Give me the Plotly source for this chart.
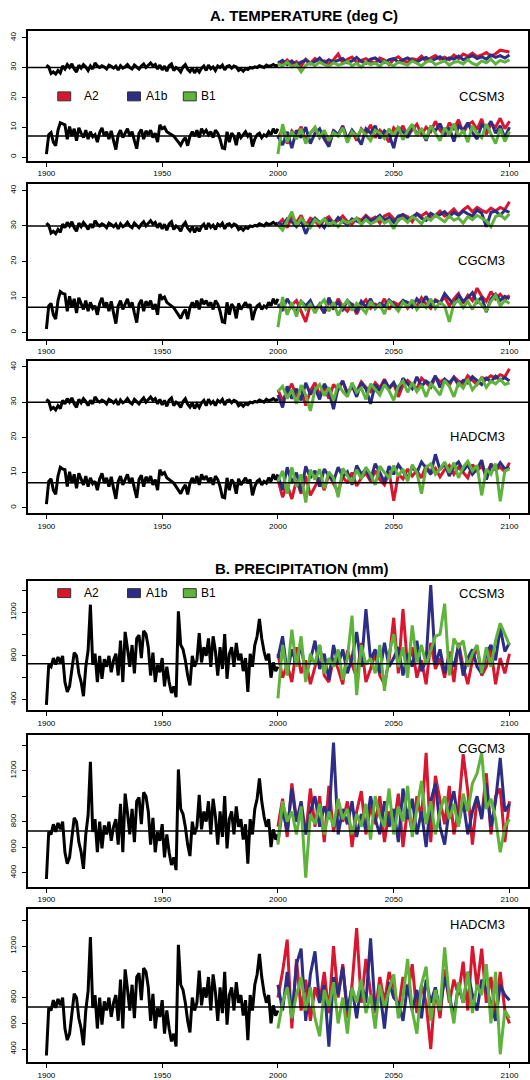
import plotly.graph_objects as go

W, H = 530, 1080

# ---------------- DATA ----------------
hist_years = list(range(1900, 2001))
future_years = list(range(2000, 2101, 2))

hist_tmax = [
    30.8, 30.2, 28.0, 28.5, 27.8, 29.0, 28.2, 30.5, 29.5, 31.0,
    30.0, 31.2, 29.5, 28.5, 30.8, 29.8, 31.0, 30.2, 29.0, 30.5,
    29.5, 31.5, 30.5, 30.0, 30.6, 30.2, 29.5, 30.8, 30.4, 29.8,
    30.5, 29.2, 30.6, 29.8, 30.2, 31.0, 30.0, 29.5, 30.8, 30.2,
    29.5, 30.5, 31.2, 30.0, 30.8, 31.5, 30.5, 31.0, 29.5, 30.8,
    29.2, 30.5, 28.8, 30.6, 31.2, 29.0, 30.0, 29.5, 28.5, 30.2,
    31.0, 29.4, 28.6, 29.8, 28.2, 29.5, 28.5, 29.8, 30.5, 29.0,
    30.8, 29.6, 30.2, 29.0, 30.5, 30.0, 30.8, 29.2, 30.4, 30.6,
    29.8, 30.5, 30.2, 29.0, 29.5, 28.8, 29.6, 29.3, 30.0, 29.8,
    30.2, 30.0, 30.6, 30.2, 30.0, 30.8, 30.4, 30.6, 31.0, 30.5,
    30.8]
hist_tmin = [
    1.0, 7.5, 8.2, 5.0, 3.8, 9.0, 11.5, 11.0, 10.8, 6.0,
    10.2, 7.0, 9.5, 5.5, 9.8, 8.0, 6.5, 9.0, 6.0, 8.5,
    6.8, 7.5, 5.0, 8.2, 9.8, 7.0, 8.5, 6.0, 8.8, 5.5,
    2.5, 7.5, 9.0, 6.5, 8.0, 9.5, 7.0, 8.5, 5.5, 2.8,
    8.0, 9.2, 6.0, 8.8, 7.5, 9.0, 6.5, 8.0, 5.0, 10.8,
    9.5, 10.0, 8.5, 8.0, 7.5, 7.0, 6.0, 5.0, 4.0, 5.5,
    6.5, 3.8, 7.0, 8.5, 7.0, 9.0, 6.5, 9.5, 8.0, 9.0,
    7.5, 8.5, 6.5, 9.0, 8.0, 6.0, 3.0, 2.8, 8.5, 5.0,
    8.0, 7.0, 4.0, 8.2, 6.5, 7.5, 8.5, 7.0, 8.0, 3.5,
    6.0, 7.5, 8.0, 6.5, 7.5, 7.0, 8.5, 7.5, 9.5, 8.0,
    9.5]
hist_precip = [
    350, 720, 700, 780, 720, 790, 740, 800, 560, 470,
    520, 700, 830, 800, 640, 560, 430, 700, 850, 1270,
    720, 820, 560, 800, 590, 770, 700, 800, 650, 760,
    820, 620, 940, 560, 1020, 870, 700, 900, 640, 960,
    990, 780, 1030, 1000, 880, 620, 830, 560, 720, 650,
    780, 520, 700, 560, 460, 520, 420, 1210, 900, 860,
    760, 620, 530, 800, 700, 760, 1010, 740, 880, 800,
    960, 700, 980, 840, 620, 880, 680, 1000, 590, 820,
    880, 700, 920, 760, 820, 660, 780, 470, 820, 700,
    900, 980, 1140, 960, 840, 760, 820, 600, 740, 660,
    700]

tmax_ref = 30.0
tmin_ref = 7.1
precip_ref = 727

# --- CCSM3 ---
ccsm3_tmax_a2 = [31.8, 31.2, 32.5, 31.0, 32.0, 30.5, 32.8, 31.5, 33.0, 31.8, 32.2, 31.0, 32.6, 34.5, 31.5, 32.8, 33.5, 31.8, 32.4, 33.0, 32.0, 31.5, 33.2, 32.5, 31.0, 32.8, 33.6, 32.2, 31.8, 33.0, 32.5, 33.8, 32.0, 33.2, 34.0, 32.8, 33.5, 32.6, 34.2, 33.0, 34.5, 33.8, 34.8, 33.6, 34.2, 35.0, 33.8, 34.6, 35.8, 35.5, 35.2]
ccsm3_tmax_a1b = [31.5, 32.4, 31.0, 32.2, 30.8, 31.8, 32.5, 31.2, 32.0, 33.2, 31.5, 32.6, 31.8, 32.4, 33.0, 31.6, 32.2, 33.4, 32.0, 31.4, 32.8, 33.2, 32.0, 31.6, 32.6, 33.0, 31.8, 32.6, 33.2, 32.4, 31.8, 32.8, 33.4, 32.2, 33.0, 33.6, 32.4, 33.2, 32.8, 33.8, 32.6, 33.4, 34.0, 33.0, 33.6, 32.8, 34.2, 33.4, 34.0, 33.2, 34.2]
ccsm3_tmax_b1 = [31.2, 30.5, 31.8, 30.2, 31.0, 28.6, 30.8, 31.5, 30.6, 31.8, 31.0, 30.4, 31.6, 30.8, 31.2, 32.0, 30.6, 31.4, 30.2, 31.8, 31.0, 31.5, 30.4, 32.0, 31.2, 30.6, 31.8, 31.2, 30.8, 32.2, 31.4, 30.6, 31.8, 32.4, 31.0, 31.6, 32.2, 30.8, 31.8, 32.0, 31.2, 32.6, 31.4, 30.8, 32.2, 31.6, 32.8, 31.2, 32.4, 31.8, 32.6]
ccsm3_tmin_a2 = [6.0, 9.5, 4.5, 8.8, 7.0, 10.2, 5.5, 8.0, 9.8, 6.5, 8.5, 4.0, 9.0, 7.2, 10.5, 6.0, 8.8, 5.5, 9.5, 7.8, 10.8, 6.5, 9.0, 7.5, 5.0, 9.8, 8.2, 10.5, 6.8, 9.2, 11.0, 7.5, 10.0, 8.5, 12.0, 9.0, 7.0, 11.5, 9.5, 12.5, 8.0, 10.8, 11.8, 9.2, 12.8, 7.5, 11.2, 10.0, 13.0, 9.5, 12.0]
ccsm3_tmin_a1b = [7.0, 4.0, 8.5, 3.0, 9.0, 6.5, 10.0, 4.5, 8.0, 9.5, 6.0, 3.5, 8.8, 7.5, 10.2, 5.8, 9.0, 7.0, 4.2, 9.5, 8.0, 10.5, 6.2, 8.8, 7.5, 3.0, 9.8, 8.5, 6.5, 10.8, 7.8, 9.2, 5.5, 10.0, 8.8, 11.2, 7.5, 9.8, 5.2, 10.5, 9.0, 11.5, 8.2, 6.0, 10.8, 9.5, 12.0, 8.0, 10.5, 6.5, 10.0]
ccsm3_tmin_b1 = [1.0, 11.0, 5.0, 8.5, 6.0, 9.5, 4.5, 8.0, 10.0, 6.5, 9.0, 5.5, 8.2, 7.0, 9.8, 4.8, 8.5, 6.8, 9.2, 7.5, 5.5, 9.0, 8.0, 6.2, 9.5, 7.0, 10.2, 5.8, 8.8, 11.0, 7.2, 9.5, 6.0, 10.5, 8.2, 5.5, 9.8, 7.5, 11.2, 6.8, 9.0, 5.0, 10.5, 8.0, 6.5, 11.0, 7.8, 4.5, 9.5, 5.2, 8.5]
ccsm3_precip_a2 = [820, 600, 720, 560, 880, 640, 760, 540, 700, 900, 620, 560, 780, 680, 540, 850, 720, 600, 920, 560, 680, 820, 620, 540, 760, 1150, 640, 1230, 700, 880, 600, 760, 540, 920, 680, 780, 600, 840, 560, 920, 700, 540, 760, 880, 620, 700, 860, 540, 780, 640, 820]
ccsm3_precip_a1b = [780, 980, 640, 860, 720, 900, 620, 760, 940, 680, 820, 580, 900, 720, 860, 640, 780, 1020, 700, 1230, 760, 860, 640, 920, 700, 780, 880, 620, 820, 700, 940, 660, 760, 1450, 720, 860, 640, 800, 700, 900, 620, 780, 860, 700, 640, 820, 900, 760, 1060, 840, 920]
ccsm3_precip_b1 = [410, 900, 620, 1040, 700, 980, 560, 820, 720, 900, 640, 780, 700, 860, 580, 780, 1170, 440, 900, 720, 780, 640, 900, 480, 820, 1000, 700, 880, 600, 1080, 740, 900, 720, 860, 980, 1000, 1280, 620, 960, 880, 940, 700, 820, 900, 640, 880, 700, 940, 1100, 1000, 900]

# --- CGCM3 ---
cgcm3_tmax_a2 = [30.5, 31.8, 29.5, 32.5, 31.0, 33.0, 30.2, 32.2, 31.5, 29.8, 31.8, 32.6, 30.8, 31.5, 32.8, 31.2, 30.5, 32.2, 31.6, 33.0, 31.8, 32.5, 30.8, 32.8, 33.4, 32.0, 31.5, 33.2, 32.6, 31.2, 33.5, 32.8, 33.8, 32.4, 33.0, 34.2, 32.8, 33.6, 34.8, 33.2, 34.5, 35.5, 34.0, 35.2, 34.4, 33.8, 35.0, 34.2, 35.2, 34.6, 36.8]
cgcm3_tmax_a1b = [31.0, 30.2, 32.0, 31.2, 29.8, 31.5, 27.8, 30.8, 32.2, 31.0, 29.5, 31.8, 30.6, 32.4, 31.2, 30.4, 32.0, 31.5, 30.8, 32.6, 31.4, 32.0, 33.0, 31.6, 32.4, 31.0, 32.8, 33.2, 31.8, 32.6, 33.4, 32.2, 31.6, 33.6, 32.8, 33.2, 34.0, 32.6, 33.8, 33.0, 34.2, 33.4, 32.8, 34.5, 33.6, 29.8, 33.8, 34.2, 33.0, 34.4, 33.8]
cgcm3_tmax_b1 = [30.2, 28.8, 31.5, 34.0, 30.0, 32.2, 30.5, 29.5, 31.8, 30.8, 32.0, 30.2, 31.2, 29.8, 31.6, 30.8, 31.4, 32.2, 30.4, 31.8, 30.6, 31.2, 32.4, 30.8, 31.6, 29.2, 31.8, 32.2, 31.0, 32.6, 31.8, 30.6, 32.4, 31.6, 33.0, 32.0, 31.2, 32.8, 31.6, 32.2, 30.8, 32.6, 31.8, 33.0, 32.2, 31.4, 29.8, 32.6, 33.2, 32.0, 33.4]
cgcm3_tmin_a2 = [7.0, 8.5, 5.5, 7.8, 9.0, 6.2, 3.0, 8.0, 6.8, 7.5, 5.5, 8.8, 6.5, 9.5, 7.2, 6.0, 8.2, 5.2, 7.8, 9.2, 6.8, 8.0, 7.2, 9.5, 6.5, 8.5, 7.8, 9.0, 6.8, 8.2, 7.5, 9.8, 8.0, 6.8, 9.2, 8.5, 10.0, 7.5, 9.5, 11.0, 8.2, 10.5, 9.0, 12.5, 10.2, 8.8, 11.5, 9.5, 10.8, 9.2, 10.5]
cgcm3_tmin_a1b = [8.0, 6.5, 9.5, 7.2, 5.8, 8.8, 7.5, 9.0, 6.2, 8.0, 5.5, 9.8, 7.0, 8.5, 6.5, 9.0, 7.8, 6.0, 8.8, 7.2, 9.5, 6.8, 8.2, 7.5, 9.2, 8.0, 6.5, 9.0, 8.5, 7.2, 9.5, 8.0, 10.2, 7.5, 9.0, 8.2, 11.0, 9.5, 7.8, 10.5, 8.8, 9.8, 11.2, 8.5, 10.0, 5.8, 9.5, 10.8, 9.0, 10.2, 9.5]
cgcm3_tmin_b1 = [1.5, 10.0, 5.0, 8.5, 4.5, 9.0, 6.5, 8.0, 5.5, 7.8, 9.2, 6.0, 8.5, 4.8, 7.5, 9.0, 6.2, 8.2, 7.0, 5.5, 8.8, 6.8, 7.8, 5.2, 9.0, 7.5, 6.0, 8.5, 7.2, 9.2, 6.5, 8.0, 7.0, 9.5, 6.8, 8.5, 7.5, 3.0, 8.2, 9.0, 7.0, 8.8, 6.5, 9.2, 7.8, 6.2, 8.8, 10.5, 7.5, 9.0, 8.2]
cgcm3_precip_a2 = [760, 980, 680, 1100, 820, 900, 700, 1060, 760, 1000, 640, 1080, 720, 900, 800, 960, 600, 880, 1040, 700, 920, 780, 1000, 640, 880, 760, 1020, 600, 900, 720, 1000, 820, 1340, 640, 1160, 960, 780, 1080, 700, 900, 1330, 1040, 620, 980, 840, 1180, 700, 1000, 1060, 640, 960]
cgcm3_precip_a1b = [640, 900, 720, 1060, 800, 960, 700, 880, 1000, 760, 920, 820, 1420, 700, 900, 780, 960, 680, 860, 740, 1000, 820, 700, 960, 760, 900, 640, 1060, 820, 980, 700, 880, 600, 960, 1100, 760, 620, 900, 1040, 780, 960, 700, 880, 1000, 820, 1100, 760, 960, 1300, 880, 940]
cgcm3_precip_b1 = [620, 960, 800, 880, 700, 920, 360, 860, 780, 940, 700, 880, 760, 980, 820, 900, 700, 860, 760, 940, 660, 1000, 840, 760, 1060, 700, 920, 800, 1080, 680, 900, 1120, 780, 960, 700, 880, 1000, 820, 940, 760, 1020, 880, 1100, 1180, 1340, 900, 980, 820, 560, 760, 820]

# --- HADCM3 ---
hadcm3_tmax_a2 = [33.5, 30.5, 32.8, 35.2, 31.5, 34.0, 29.0, 33.2, 35.5, 32.0, 34.2, 31.0, 35.0, 33.5, 36.0, 32.2, 34.5, 33.0, 35.8, 34.2, 33.0, 35.5, 34.0, 36.5, 33.8, 35.2, 31.5, 34.8, 36.2, 35.0, 33.8, 36.8, 35.5, 34.2, 37.0, 35.8, 36.5, 34.8, 37.2, 36.0, 35.2, 37.5, 36.2, 35.0, 37.0, 36.5, 37.5, 36.8, 37.8, 37.2, 39.5]
hadcm3_tmax_a1b = [32.0, 28.5, 34.5, 31.0, 33.8, 30.5, 35.5, 32.2, 34.0, 30.8, 35.2, 33.0, 28.0, 34.2, 36.0, 32.5, 34.8, 31.5, 35.5, 33.8, 29.5, 35.0, 33.2, 36.2, 34.0, 35.6, 33.0, 36.8, 35.2, 33.8, 37.2, 34.5, 36.0, 35.0, 37.5, 34.2, 36.5, 35.5, 37.0, 34.8, 36.2, 35.4, 37.2, 36.0, 35.0, 36.8, 35.8, 37.4, 36.2, 37.0, 36.0]
hadcm3_tmax_b1 = [33.0, 34.5, 31.0, 33.5, 29.5, 34.8, 32.0, 27.5, 33.5, 35.0, 31.8, 34.2, 30.5, 35.2, 33.0, 31.5, 35.5, 32.8, 34.0, 30.8, 35.2, 33.5, 32.0, 35.0, 33.2, 30.5, 34.5, 36.0, 32.8, 35.5, 33.0, 34.8, 31.5, 35.2, 33.8, 32.0, 36.2, 34.5, 31.5, 35.5, 34.0, 36.5, 33.5, 35.2, 36.8, 34.2, 36.0, 35.2, 36.5, 35.0, 35.5]
hadcm3_tmin_a2 = [8.0, 3.0, 6.5, 2.5, 7.8, 4.0, 9.0, 3.5, 6.0, 8.5, 5.0, 9.5, 6.8, 4.5, 8.8, 7.0, 10.0, 6.2, 8.5, 9.8, 7.5, 10.5, 8.0, 6.5, 10.2, 2.0, 9.5, 8.2, 11.0, 9.0, 10.5, 8.5, 12.0, 9.8, 11.2, 8.8, 10.8, 12.0, 9.5, 11.5, 10.0, 8.5, 12.2, 10.5, 11.8, 9.2, 12.5, 10.8, 11.5, 10.2, 12.8]
hadcm3_tmin_a1b = [9.0, 5.0, 11.5, 7.0, 10.0, 4.5, 11.8, 8.5, 10.5, 6.0, 11.0, 9.0, 7.5, 11.5, 8.8, 10.2, 6.5, 12.0, 9.5, 11.0, 8.0, 12.5, 10.0, 7.2, 11.8, 9.5, 12.2, 10.5, 8.5, 11.5, 10.0, 13.0, 11.2, 9.5, 15.2, 10.8, 12.5, 9.0, 11.8, 13.0, 10.5, 12.2, 9.5, 11.0, 13.5, 8.0, 12.0, 10.8, 12.8, 11.0, 11.5]
hadcm3_tmin_b1 = [7.5, 10.5, 4.0, 11.5, 6.0, 9.5, 1.5, 10.8, 8.0, 11.0, 5.5, 10.2, 8.5, 3.0, 11.2, 9.0, 7.0, 10.8, 8.2, 11.5, 9.5, 6.5, 11.8, 10.0, 8.5, 12.0, 9.0, 11.0, 7.5, 12.2, 10.0, 4.0, 11.5, 12.5, 9.5, 11.0, 13.0, 10.0, 12.8, 8.5, 11.5, 13.2, 10.5, 12.0, 3.5, 11.0, 9.5, 12.5, 1.8, 10.5, 11.0]
hadcm3_precip_a2 = [800, 1000, 1250, 560, 1100, 700, 940, 620, 880, 760, 1000, 680, 1200, 800, 1060, 640, 900, 1340, 760, 1100, 840, 680, 960, 760, 1000, 880, 700, 960, 820, 1060, 680, 900, 760, 400, 880, 640, 1020, 760, 940, 820, 1080, 700, 1200, 880, 1180, 760, 960, 640, 1000, 700, 600]
hadcm3_precip_a1b = [900, 700, 1000, 640, 1060, 1180, 620, 980, 1160, 760, 900, 420, 960, 820, 1040, 700, 880, 640, 920, 760, 1260, 700, 860, 560, 920, 800, 760, 620, 900, 700, 860, 640, 940, 760, 880, 700, 960, 820, 660, 900, 760, 1000, 820, 700, 940, 860, 760, 620, 900, 820, 780]
hadcm3_precip_b1 = [560, 760, 880, 640, 820, 960, 700, 880, 640, 500, 860, 720, 920, 600, 800, 520, 880, 760, 940, 680, 820, 560, 900, 720, 860, 980, 640, 800, 1100, 700, 520, 900, 1040, 620, 860, 700, 1190, 800, 600, 920, 760, 1000, 680, 900, 820, 1060, 600, 1000, 360, 700, 640]

scenarios = ["A2", "A1b", "B1"]
scenario_colors = {"A2": "#d9162d", "A1b": "#2c2d85", "B1": "#5eb33b"}

future = {
    "CCSM3": {
        "tmax": [ccsm3_tmax_a2, ccsm3_tmax_a1b, ccsm3_tmax_b1],
        "tmin": [ccsm3_tmin_a2, ccsm3_tmin_a1b, ccsm3_tmin_b1],
        "precip": [ccsm3_precip_a2, ccsm3_precip_a1b, ccsm3_precip_b1],
    },
    "CGCM3": {
        "tmax": [cgcm3_tmax_a2, cgcm3_tmax_a1b, cgcm3_tmax_b1],
        "tmin": [cgcm3_tmin_a2, cgcm3_tmin_a1b, cgcm3_tmin_b1],
        "precip": [cgcm3_precip_a2, cgcm3_precip_a1b, cgcm3_precip_b1],
    },
    "HADCM3": {
        "tmax": [hadcm3_tmax_a2, hadcm3_tmax_a1b, hadcm3_tmax_b1],
        "tmin": [hadcm3_tmin_a2, hadcm3_tmin_a1b, hadcm3_tmin_b1],
        "precip": [hadcm3_precip_a2, hadcm3_precip_a1b, hadcm3_precip_b1],
    },
}
models = ["CCSM3", "CGCM3", "HADCM3"]

temp_ticks = [0, 10, 20, 30, 40]
precip_ticks = [400, 600, 800, 1000, 1200, 1400]
x_ticks = [1900, 1950, 2000, 2050, 2100]

# ---------------- LAYOUT GEOMETRY (pixels) ----------------
panels = [
    dict(kind="temp", model="CCSM3", top=31, bottom=162, yr=[-1.3, 42.3], lab_y=97, legend=True),
    dict(kind="temp", model="CGCM3", top=185, bottom=341, yr=[-1.76, 41.87], lab_y=262, legend=False),
    dict(kind="temp", model="HADCM3", top=363.3, bottom=516.7, yr=[-1.6, 41.7], lab_y=439, legend=False),
    dict(kind="precip", model="CCSM3", top=584.3, bottom=715, yr=[300, 1492], lab_y=597, legend=True,
         ptext=["400", "", "800", "", "1200", ""]),
    dict(kind="precip", model="CGCM3", top=739.3, bottom=892.7, yr=[288, 1484], lab_y=753, legend=False,
         ptext=["400", "600", "800", "", "1200", ""]),
    dict(kind="precip", model="HADCM3", top=915, bottom=1069.3, yr=[297, 1488], lab_y=931, legend=False,
         ptext=["400", "600", "800", "", "1200", ""]),
]
X_LEFT = 28
FONT = "Liberation Sans, Arial, sans-serif"


def py(p):
    return 1 - p / H


def px(p):
    return p / W


fig = go.Figure()
layout = dict(
    width=W, height=H,
    margin=dict(l=0, r=0, t=0, b=0),
    paper_bgcolor="white", plot_bgcolor="white",
    showlegend=False,
    font=dict(family=FONT, color="black"),
)
shapes = []
annotations = []

for i, p in enumerate(panels):
    n = i + 1
    xa = "x" if n == 1 else f"x{n}"
    ya = "y" if n == 1 else f"y{n}"
    xkey = "xaxis" if n == 1 else f"xaxis{n}"
    ykey = "yaxis" if n == 1 else f"yaxis{n}"

    layout[xkey] = dict(
        domain=[px(X_LEFT), 1.0], range=[1892, 2108], anchor=ya,
        showgrid=False, zeroline=False, showline=True, mirror=True,
        linecolor="black", linewidth=1.5, ticks="outside", ticklen=4, tickwidth=1,
        tickcolor="black", tickvals=x_ticks, ticktext=[str(v) for v in x_ticks],
        tickfont=dict(size=8, family=FONT), ticklabelstandoff=0,
    )
    if p["kind"] == "temp":
        tv = temp_ticks
        tt = [str(v) for v in temp_ticks]
    else:
        tv = precip_ticks
        tt = p["ptext"]
    layout[ykey] = dict(
        domain=[py(p["bottom"]), py(p["top"])], range=p["yr"], anchor=xa,
        showgrid=False, zeroline=False, showline=True, mirror=True,
        linecolor="black", linewidth=1.5, ticks="outside", ticklen=4, tickwidth=1,
        tickcolor="black", tickvals=tv, ticktext=tt, tickangle=-90,
        tickfont=dict(size=8, family=FONT), ticklabelstandoff=3,
    )

    model = p["model"]
    if p["kind"] == "temp":
        series = [("tmax", hist_tmax, tmax_ref), ("tmin", hist_tmin, tmin_ref)]
    else:
        series = [("precip", hist_precip, precip_ref)]

    for var, hist, ref in series:
        fig.add_trace(go.Scatter(
            x=hist_years, y=hist, mode="lines", xaxis=xa, yaxis=ya,
            line=dict(color="black", width=3.0), name="Observed", hoverinfo="skip"))
        for s, vals in zip(scenarios, future[model][var]):
            fig.add_trace(go.Scatter(
                x=future_years[:len(vals)], y=vals, mode="lines", xaxis=xa, yaxis=ya,
                line=dict(color=scenario_colors[s], width=3.0), name=s))
        shapes.append(dict(type="line", xref=f"{xa} domain", yref=ya, x0=0, x1=1,
                           y0=ref, y1=ref, line=dict(color="black", width=1.5), layer="above"))

    annotations.append(dict(
        text=model, xref="paper", yref="paper", x=px(509), y=py(p["lab_y"]),
        xanchor="right", yanchor="middle", showarrow=False,
        font=dict(size=13, family=FONT, color="black")))

    if p["legend"]:
        ly = p["lab_y"]
        for s, sx, tx in zip(scenarios, [58, 128, 184], [82, 145, 200]):
            shapes.append(dict(type="rect", xref="paper", yref="paper",
                               x0=px(sx), x1=px(sx + 13), y0=py(ly + 4.5), y1=py(ly - 4.5),
                               fillcolor=scenario_colors[s], line=dict(color="#333333", width=1)))
            annotations.append(dict(
                text=s, xref="paper", yref="paper", x=px(tx), y=py(ly),
                xanchor="left", yanchor="middle", showarrow=False,
                font=dict(size=12, family=FONT, color="black")))

annotations.append(dict(
    text="<b>A. TEMPERATURE (deg C)</b>", xref="paper", yref="paper", x=px(305), y=py(16),
    xanchor="center", yanchor="middle", showarrow=False, font=dict(size=15, family=FONT, color="black")))
annotations.append(dict(
    text="<b>B. PRECIPITATION (mm)</b>", xref="paper", yref="paper", x=px(303), y=py(572),
    xanchor="center", yanchor="middle", showarrow=False, font=dict(size=15, family=FONT, color="black")))

layout["shapes"] = shapes
layout["annotations"] = annotations
fig.update_layout(**layout)
fig.write_html("out.html")
